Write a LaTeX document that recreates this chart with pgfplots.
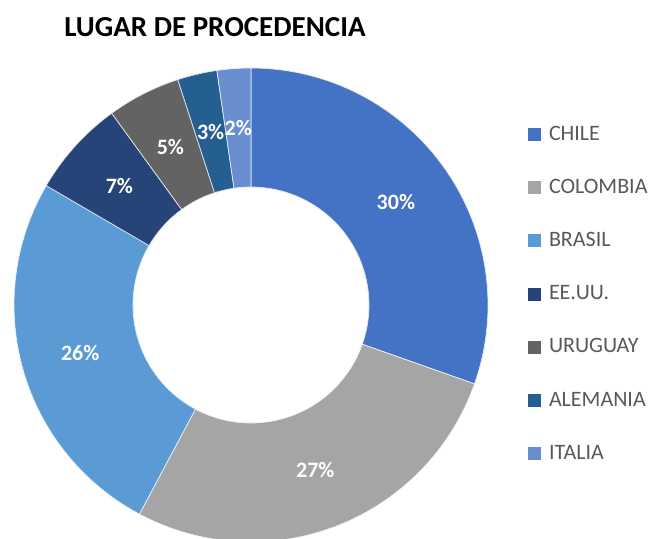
\documentclass[border=0pt]{standalone}
\usepackage{fontspec}
\setmainfont{Carlito}
\usepackage{pgfplots}
\pgfplotsset{compat=1.18}
\definecolor{cCHL}{HTML}{4472C4}
\definecolor{cCOL}{HTML}{A5A5A5}
\definecolor{cBRA}{HTML}{5B9BD5}
\definecolor{cUSA}{HTML}{264478}
\definecolor{cURU}{HTML}{636363}
\definecolor{cALE}{HTML}{255E91}
\definecolor{cITA}{HTML}{698ED0}
\definecolor{legtext}{HTML}{595959}
% #1 cumulative start (%), #2 value (%), #3 colour, #4 label
\newcommand{\slice}[4]{%
  \addplot[fill=#3, draw=white!85!#3, line width=0.7pt, domain=0:201, samples=202, variable=\t, forget plot]
   ({251 + ifthenelse(\t<100.5,237,118)*cos(90-3.6*(#1 + #2*ifthenelse(\t<100.5,\t/100,(201-\t)/100)))},
    {233 + ifthenelse(\t<100.5,237,118)*sin(90-3.6*(#1 + #2*ifthenelse(\t<100.5,\t/100,(201-\t)/100)))}) -- cycle;
  \node[text=white, font=\fontsize{22}{26}\selectfont\bfseries, anchor=center]
    at (axis cs:{251+177.5*cos(90-3.6*(#1+#2/2))},{233+177.5*sin(90-3.6*(#1+#2/2))}) {#4\%};
}
\begin{document}
\begin{tikzpicture}
\begin{axis}[
  x=1pt, y=1pt, xmin=0, xmax=653, ymin=0, ymax=538,
  hide axis, clip=true,
  legend image code/.code={\fill[#1, draw=none] (0pt,-6.5pt) rectangle (13pt,6.5pt);},
  legend cell align=left,
  legend style={draw=none, fill=none, inner sep=0pt, outer sep=0pt,
    at={(axis cs:528,413)}, anchor=north west,
    font=\fontsize{22}{26}\selectfont, text=legtext,
    nodes={inner sep=0pt, text height=15pt, text depth=4pt},
    row sep=34.2pt, column sep=8pt},
]
% start, value, colour, label
\slice{0.0}{30.4}{cCHL}{30}
\slice{30.4}{27.4}{cCOL}{27}
\slice{57.8}{25.6}{cBRA}{26}
\slice{83.4}{6.6}{cUSA}{7}
\slice{90.0}{5.0}{cURU}{5}
\slice{95.0}{2.7}{cALE}{3}
\slice{97.7}{2.3}{cITA}{2}
\addlegendimage{fill=cCHL, draw=none}\addlegendentry{CHILE}
\addlegendimage{fill=cCOL, draw=none}\addlegendentry{COLOMBIA}
\addlegendimage{fill=cBRA, draw=none}\addlegendentry{BRASIL}
\addlegendimage{fill=cUSA, draw=none}\addlegendentry{EE.UU.}
\addlegendimage{fill=cURU, draw=none}\addlegendentry{URUGUAY}
\addlegendimage{fill=cALE, draw=none}\addlegendentry{ALEMANIA}
\addlegendimage{fill=cITA, draw=none}\addlegendentry{ITALIA}
\node[anchor=base, font=\fontsize{29}{34}\selectfont\bfseries, text=black] at (axis cs:215,501) {LUGAR DE PROCEDENCIA};
\coordinate (BL) at (axis cs:0,0);
\coordinate (TR) at (axis cs:653,538);
\end{axis}
\pgfresetboundingbox
\path (BL) rectangle (TR);
\end{tikzpicture}
\end{document}
